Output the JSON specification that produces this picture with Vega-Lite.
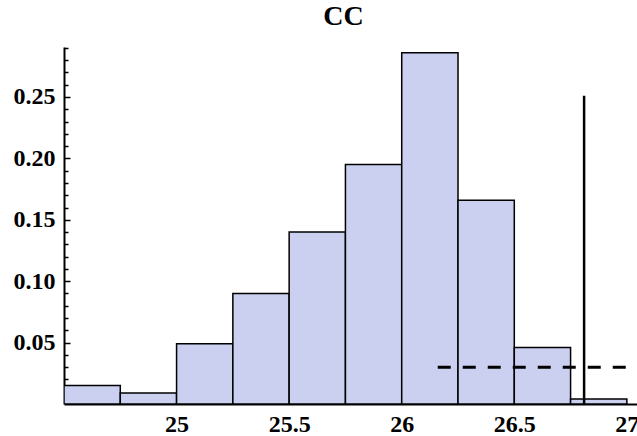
{
  "$schema": "https://vega.github.io/schema/vega-lite/v6.json",
  "width": 573,
  "height": 357,
  "autosize": {"type": "none"},
  "padding": {"left": 64, "top": 47, "right": 0, "bottom": 32},
  "background": "white",
  "config": {"view": {"stroke": null}},
  "title": {
    "text": "CC",
    "font": "Liberation Serif",
    "fontSize": 28,
    "fontWeight": "bold",
    "color": "black",
    "anchor": "middle",
    "baseline": "alphabetic",
    "offset": -10,
    "dx": -7,
    "dy": -4
  },
  "datasets": {
    "bins": [
      {"start": 24.5, "end": 24.75, "freq": 0.015},
      {"start": 24.75, "end": 25.0, "freq": 0.009},
      {"start": 25.0, "end": 25.25, "freq": 0.049},
      {"start": 25.25, "end": 25.5, "freq": 0.09},
      {"start": 25.5, "end": 25.75, "freq": 0.14},
      {"start": 25.75, "end": 26.0, "freq": 0.195},
      {"start": 26.0, "end": 26.25, "freq": 0.286},
      {"start": 26.25, "end": 26.5, "freq": 0.166},
      {"start": 26.5, "end": 26.75, "freq": 0.046},
      {"start": 26.75, "end": 27.0, "freq": 0.004}
    ],
    "vline": [{"x": 26.81, "y": 0, "y2": 0.251}],
    "hline": [{"x": 26.16, "x2": 27.045, "y": 0.03}]
  },
  "layer": [
    {
      "data": {"name": "bins"},
      "mark": {"type": "bar", "fill": "#cbd0f0", "stroke": "black", "strokeWidth": 1.5, "clip": true},
      "encoding": {
        "x": {
          "field": "start", "type": "quantitative",
          "scale": {"domain": [24.5, 27.045], "nice": false, "zero": false},
          "axis": {
            "title": null, "grid": false, "ticks": false,
            "values": [25, 25.5, 26, 26.5, 27],
            "labelExpr": "'' + datum.value",
            "labelFont": "Liberation Serif", "labelFontWeight": "bold", "labelFontSize": 24,
            "labelColor": "black", "labelPadding": 8, "labelFlush": false,
            "domainColor": "black", "domainWidth": 2
          }
        },
        "x2": {"field": "end"},
        "y": {
          "field": "freq", "type": "quantitative",
          "scale": {"domain": [0, 0.2907], "nice": false},
          "axis": {
            "title": null, "grid": false, "orient": "left",
            "values": [0.05, 0.1, 0.15, 0.2, 0.25],
            "format": ".2f",
            "labelFont": "Liberation Serif", "labelFontWeight": "bold", "labelFontSize": 24,
            "labelColor": "black", "labelPadding": 15,
            "ticks": true, "tickSize": -6, "tickColor": "black", "tickWidth": 1.5,
            "domainColor": "black", "domainWidth": 2
          }
        },
        "y2": {"datum": 0}
      }
    },
    {
      "data": {"name": "vline"},
      "mark": {"type": "rule", "stroke": "black", "strokeWidth": 2.5},
      "encoding": {
        "x": {"field": "x", "type": "quantitative"},
        "y": {
          "field": "y", "type": "quantitative",
          "axis": {
            "title": null, "grid": false, "orient": "left", "labels": false, "domain": false,
            "values": [0.01, 0.02, 0.03, 0.04, 0.06, 0.07, 0.08, 0.09, 0.11, 0.12, 0.13, 0.14, 0.16, 0.17, 0.18, 0.19, 0.21, 0.22, 0.23, 0.24, 0.26, 0.27, 0.28, 0.29],
            "ticks": true, "tickSize": -4, "tickColor": "black", "tickWidth": 1.5
          }
        },
        "y2": {"field": "y2"}
      }
    },
    {
      "data": {"name": "hline"},
      "mark": {"type": "rule", "stroke": "black", "strokeWidth": 3, "strokeDash": [13, 12]},
      "encoding": {
        "x": {"field": "x", "type": "quantitative"},
        "x2": {"field": "x2"},
        "y": {"field": "y", "type": "quantitative"}
      }
    }
  ],
  "resolve": {"axis": {"y": "independent"}}
}
